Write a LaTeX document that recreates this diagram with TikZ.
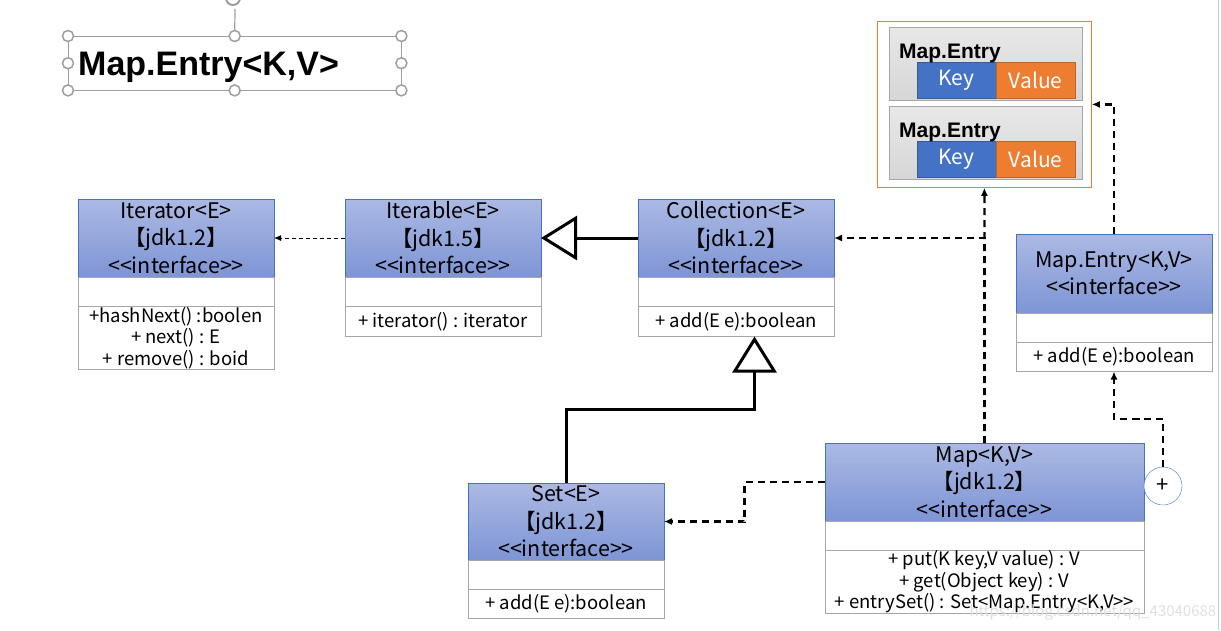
\documentclass[tikz,border=0pt]{standalone}
\usepackage{fontspec}
\setmainfont{Noto Sans CJK SC}
\newfontfamily\titlefont{Liberation Sans}
\usetikzlibrary{positioning}
\usetikzlibrary{arrows.meta}
\usetikzlibrary{calc}
\definecolor{headtop}{HTML}{ABB9E3}
\definecolor{headbottom}{HTML}{7E95D5}
\definecolor{headline}{HTML}{4472C4}
\definecolor{boxline}{HTML}{A6A6A6}
\definecolor{keyblue}{HTML}{4472C4}
\definecolor{valueorange}{HTML}{ED7D31}
\definecolor{handlegray}{HTML}{9E9E9E}
\tikzset{
  head/.style={
    draw=headline,
    top color=headtop,
    bottom color=headbottom,
    minimum width=196pt,
    minimum height=78pt,
    align=center,
    inner sep=0pt,
    outer sep=0pt,
    font=\fontsize{21.5}{27.5}\selectfont,
  },
  attrs/.style={
    draw=boxline,
    fill=white,
    minimum width=196pt,
    minimum height=29.5pt,
    inner sep=0pt,
    outer sep=0pt,
  },
  ops/.style={
    attrs,
    align=center,
    minimum height=30pt,
    font=\fontsize{18.5}{21.5}\selectfont,
  },
  entry/.style={
    draw=boxline,
    top color=gray!18,
    bottom color=gray!32,
    minimum width=193pt,
    minimum height=73pt,
    inner sep=0pt,
  },
  keybox/.style={
    draw=headline!80!black,
    fill=keyblue,
    text=white,
    minimum width=79pt,
    minimum height=36pt,
    inner sep=0pt,
    outer sep=0pt,
    font=\fontsize{21}{24}\selectfont,
  },
  valuebox/.style={
    keybox,
    draw=valueorange!80!black,
    fill=valueorange,
  },
  entrylabel/.style={
    inner sep=0pt,
    font=\titlefont\bfseries\fontsize{21}{24}\selectfont,
  },
  handle/.style={
    circle,
    draw=handlegray,
    fill=white,
    line width=1.5pt,
    minimum size=11pt,
    inner sep=0pt,
  },
  realize/.style={
    draw,
    line width=2.2pt,
    dash pattern=on 7pt off 5pt,
    -{Latex[length=8pt,width=7pt]},
  },
  use/.style={
    draw,
    line width=1pt,
    dash pattern=on 4pt off 3pt,
    -{Latex[length=7pt,width=6pt]},
  },
  inherit/.style={
    draw,
    line width=3pt,
    -{Triangle[open,length=36pt,width=44pt]},
  },
}
\begin{document}
\begin{tikzpicture}[x=1pt,y=-1pt]
  \useasboundingbox (0,0) rectangle (1221,630);
  \draw [boxline!60] (1218.5,0) -- (1218.5,630);

  % selected title box
  \node (frame) [draw=handlegray,minimum width=333pt,minimum height=54pt,anchor=north west] at (68,36) {};
  \coordinate (rotate) at (235,9);
  \draw [handlegray,line width=1.2pt] (frame.north) -- (rotate);
  \draw [handlegray,line width=2pt] (233,-2) circle (7pt);
  \foreach \a in {north west,north,north east,east,south east,south,south west,west}
    \node [handle] at (frame.\a) {};
  \node (title) [anchor=base west,inner sep=0pt,font=\titlefont\bfseries\fontsize{34}{40}\selectfont] at (78,75) {Map.Entry<K,V>};

  % classes
  \node (iterator) [head,anchor=north west] at (78,199) {Iterator<E>\\【jdk1.2】\\<{}<interface>{}>};
  \node (iterator attrs) [attrs,below=0pt of iterator] {};
  \node (iterator ops) [ops,below=0pt of iterator attrs,minimum height=63pt] {+hashNext() :boolen\\+ next() : E\\+ remove() : boid};

  \node (iterable) [head,anchor=north west] at (345,199) {Iterable<E>\\【jdk1.5】\\<{}<interface>{}>};
  \node (iterable attrs) [attrs,below=0pt of iterable] {};
  \node (iterable ops) [ops,below=0pt of iterable attrs] {+ iterator() : iterator};

  \node (collection) [head,anchor=north west] at (638,199) {Collection<E>\\【jdk1.2】\\<{}<interface>{}>};
  \node (collection attrs) [attrs,below=0pt of collection] {};
  \node (collection ops) [ops,below=0pt of collection attrs] {+ add(E e):boolean};

  \node (mapentry) [head,anchor=north west,minimum height=79pt] at (1016,234) {Map.Entry<K,V>\\<{}<interface>{}>};
  \node (mapentry attrs) [attrs,below=0pt of mapentry] {};
  \node (mapentry ops) [ops,below=0pt of mapentry attrs,minimum height=29pt] {+ add(E e):boolean};

  \node (set) [head,anchor=north west,minimum height=77pt] at (468,483) {Set<E>\\【jdk1.2】\\<{}<interface>{}>};
  \node (set attrs) [attrs,below=0pt of set] {};
  \node (set ops) [ops,below=0pt of set attrs,minimum height=29pt] {+ add(E e):boolean};

  \node (map) [head,anchor=north west,minimum width=319pt] at (825,443) {Map<K,V>\\【jdk1.2】\\<{}<interface>{}>};
  \node (map attrs) [attrs,below=0pt of map,minimum width=319pt] {};
  \node (map ops) [ops,below=0pt of map attrs,minimum width=319pt,minimum height=63pt] {+ put(K key,V value) : V\\+ get(Object key) : V\\+ entrySet() : Set<Map.Entry<K,V>{}>};
  \node (plus) [circle,draw=headline,fill=white,minimum size=38pt,inner sep=0pt,font=\fontsize{22}{24}\selectfont] at (1163,486) {+};

  % entries
  \node (entries) [draw=valueorange,line width=0.8pt,minimum width=214pt,minimum height=166pt,anchor=north west] at (877,21) {};
  \foreach \n/\y in {1/27,2/106} {
    \node (entry\n) [entry,anchor=north west] at (889,\y) {};
    \node (key\n) [keybox,anchor=south west] at ([xshift=28pt,yshift=2.5pt]entry\n.south west) {Key};
    \node (value\n) [valuebox,right=0pt of key\n] {Value};
    \node (label\n) [entrylabel,anchor=base west] at ([xshift=10pt,yshift=-31pt]entry\n.north west) {Map.Entry};
  }

  % connectors
  \path [use] (iterable.west) -- (iterator.east);
  \path [inherit] (collection.west) -- (iterable.east);
  \path [inherit] (set.north) |- ($(set.north)!.5!([xshift=18.5pt]collection ops.south)$) -| ([xshift=18.5pt]collection ops.south);
  \path [realize] (map.west) -| ($(map.west)!.5!(set.east)$) |- (set.east);
  \path [realize] (map.north) |- (collection.east);
  \path [realize] (map.north) -- (entries.south);
  \path [realize] (mapentry.north) |- (entries.east);
  \path [realize] (plus.north) |- ($(plus.north)!.5!(mapentry ops.south)$) -| (mapentry ops.south);

  \node (watermark) [anchor=west,text=gray!25,font=\fontsize{15}{18}\selectfont] at (966,612) {https://blog.csdn.net/qq\_43040688};
\end{tikzpicture}
\end{document}
